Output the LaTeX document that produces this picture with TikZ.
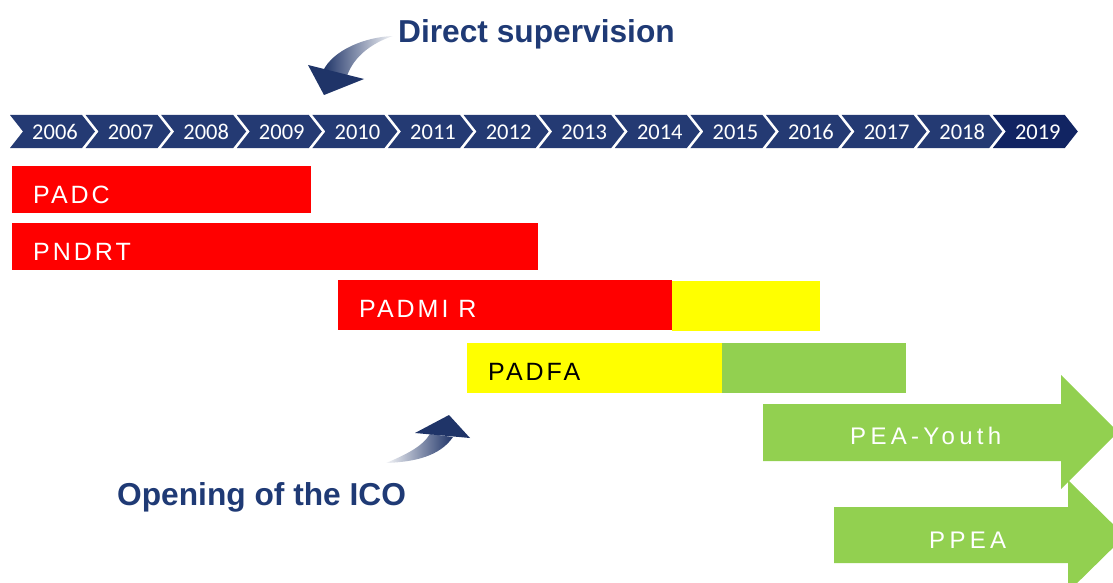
\documentclass[tikz,border=0pt]{standalone}
\usepackage{fontspec}
\setmainfont{Liberation Sans}
\newfontfamily\yearfont{Carlito}
\newfontfamily\barfont[LetterSpace=12]{Liberation Sans}
\newfontfamily\arrfont[LetterSpace=18]{Liberation Sans}
\definecolor{chev}{HTML}{243A73}
\definecolor{chevdark}{HTML}{112462}
\definecolor{navytxt}{HTML}{1F3A75}
\definecolor{navyarr}{HTML}{1F3468}
\definecolor{barred}{HTML}{FF0000}
\definecolor{baryel}{HTML}{FFFF00}
\definecolor{bargrn}{HTML}{92D050}
\tikzset{
  yearlbl/.style={font=\yearfont\fontsize{22.5}{26}\selectfont, text=white, inner sep=0pt},
  barlbl/.style={font=\barfont\fontsize{25}{30}\selectfont, inner sep=0pt, anchor=base west},
  arrlbl/.style={font=\arrfont\fontsize{24}{28}\selectfont, text=white, inner sep=0pt, anchor=base west},
  titlelbl/.style={font=\bfseries\fontsize{31.7}{36}\selectfont, text=navytxt, inner sep=0pt, anchor=base west}
}
\begin{document}
\begin{tikzpicture}[x=1pt,y=-1pt]
\useasboundingbox (0,0) rectangle (1113,583);
\clip (0,0) rectangle (1113,583);
% timeline chevrons
\foreach \i/\yr/\c in {0/2006/chev,1/2007/chev,2/2008/chev,3/2009/chev,4/2010/chev,5/2011/chev,6/2012/chev,7/2013/chev,8/2014/chev,9/2015/chev,10/2016/chev,11/2017/chev,12/2018/chev,13/2019/chevdark}{
  \pgfmathsetmacro\xa{10+75.6*\i}
  \fill[\c] (\xa,115) -- ++(72,0) -- ++(13,16.5) -- ++(-13,16.5) -- ++(-72,0) -- ++(13,-16.5) -- cycle;
  \node[yearlbl] (y\yr) at (\xa+45,132) {\yr};
}
% bars
\fill[barred] (12,166) rectangle (311,213);
\node[barlbl, text=white] (padc) at (33,203) {PADC};
\fill[barred] (12,223) rectangle (538,270);
\node[barlbl, text=white] (pndrt) at (33,260) {PNDRT};
\fill[baryel] (672,281) rectangle (820,331);
\fill[barred] (338,280) rectangle (672,330);
\node[barlbl, text=white] (padmir) at (359,317) {PADMI R};
\fill[baryel] (467,343) rectangle (722,393);
\fill[bargrn] (722,343) rectangle (906,393);
\node[barlbl, text=black] (padfa) at (488,380) {PADFA};
% block arrows
\fill[bargrn] (763,404) -- (1061,404) -- (1061,375) -- (1118,432) -- (1061,489) -- (1061,461) -- (763,461) -- cycle;
\node[arrlbl] (peay) at (850,444) {PEA-Youth};
\fill[bargrn] (834,507) -- (1068,507) -- (1068,480) -- (1125,536) -- (1068,592) -- (1068,563) -- (834,563) -- cycle;
\node[arrlbl] (ppea) at (929,548) {PPEA};
% titles
\node[titlelbl] (ds) at (398,43) {Direct supervision};
\node[titlelbl] (ico) at (117,505) {Opening of the ICO};
% curved arrow: direct supervision
\shade[left color=navyarr, right color=navyarr!5] (323,71) .. controls (333,50) and (365,37) .. (393,36) .. controls (372,43) and (354,56) .. (347,76) -- cycle;
\fill[navyarr] (308,65) -- (324,95) -- (364,79) -- cycle;
% curved arrow: opening of the ICO
\shade[left color=navyarr!5, right color=navyarr] (386,463) .. controls (405,455) and (422,447) .. (430,434) -- (453,437) .. controls (440,456) and (415,462) .. (386,463) -- cycle;
\fill[navyarr] (415,433) -- (449,415) -- (470,438) -- cycle;
\end{tikzpicture}
\end{document}
